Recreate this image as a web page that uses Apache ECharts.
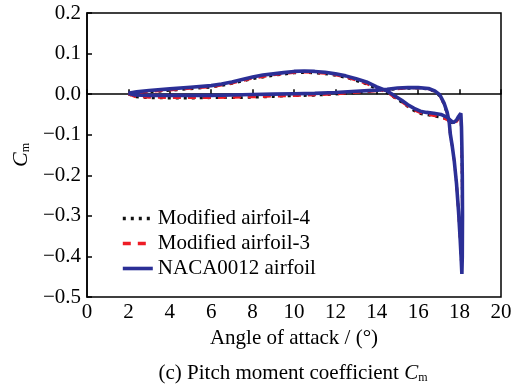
<!DOCTYPE html>
<html><head><meta charset="utf-8">
<script src="https://cdn.jsdelivr.net/npm/echarts@6/dist/echarts.min.js"></script>
<style>html,body{margin:0;padding:0;background:#fff}#c{width:526px;height:387px}</style>
</head><body><div id="c"></div>
<script>
// Tick labels
const xTicks = [0, 2, 4, 6, 8, 10, 12, 14, 16, 18, 20];
const yTicks = ['0.2', '0.1', '0.0', '\u22120.1', '\u22120.2', '\u22120.3', '\u22120.4', '\u22120.5'];
const seriesNames = ['Modified airfoil-4', 'Modified airfoil-3', 'NACA0012 airfoil'];

// NACA0012 airfoil hysteresis loop (angle of attack, Cm)
const nacaAlpha = [2.0,2.3,3,4,5,6,7,8,9,10,11,12,13,14,14.5,15,15.5,16,16.5,16.8,17.05,17.25,17.4,17.5,17.55,17.65,17.74,17.85,17.95,18.03,18.08,18.11,
  18.13,18.14,18.13,18.11,18.09,18.06,17.95,17.85,17.7,17.55,17.4,17.1,16.75,16.4,16.1,15.8,15.5,15.2,14.8,14.5,14,13.5,13,12.5,12,11.5,11,10.5,10,9.5,9,8.5,8,7.5,7,6.5,6,5,4,3,2.4,2.0];
const nacaCm = [0.002,-0.002,-0.003,-0.003,-0.003,-0.003,-0.002,-0.001,0.0,0.001,0.002,0.004,0.007,0.010,0.012,0.015,0.016,0.016,0.014,0.008,-0.002,-0.022,-0.045,-0.07,-0.098,-0.13,-0.164,-0.22,-0.29,-0.36,-0.41,-0.443,
  -0.40,-0.30,-0.20,-0.13,-0.08,-0.047,-0.055,-0.064,-0.07,-0.064,-0.057,-0.05,-0.047,-0.045,-0.042,-0.035,-0.026,-0.015,-0.002,0.008,0.018,0.030,0.038,0.045,0.050,0.054,0.056,0.057,0.056,0.053,0.050,0.047,0.042,0.036,0.030,0.025,0.021,0.017,0.013,0.009,0.006,0.002];

// Modified airfoil-3
const mod3Alpha = [2.0,2.3,3,4,5,6,7,8,9,10,11,12,13,14,14.5,15,15.5,16,16.5,16.8,17.05,17.25,17.4,17.5,17.55,17.65,17.74,17.85,17.95,18.03,18.08,18.1,
  18.12,18.13,18.12,18.1,18.08,18.05,17.95,17.85,17.7,17.55,17.4,17.1,16.75,16.4,16.1,15.8,15.5,15.2,14.8,14.5,14,13.5,13,12.5,12,11.5,11,10.5,10,9.5,9,8.5,8,7.5,7,6.5,6,5,4,3,2.4,2.0];
const mod3Cm = [0.0,-0.006,-0.008,-0.009,-0.009,-0.009,-0.008,-0.007,-0.005,-0.004,-0.002,0.0,0.004,0.008,0.011,0.013,0.015,0.015,0.013,0.007,-0.004,-0.024,-0.048,-0.072,-0.1,-0.13,-0.165,-0.22,-0.29,-0.36,-0.41,-0.43,
  -0.39,-0.30,-0.20,-0.13,-0.08,-0.05,-0.06,-0.068,-0.074,-0.07,-0.063,-0.056,-0.053,-0.05,-0.046,-0.039,-0.03,-0.019,-0.006,0.004,0.014,0.026,0.034,0.042,0.047,0.051,0.053,0.054,0.053,0.050,0.047,0.043,0.039,0.033,0.027,0.022,0.018,0.014,0.010,0.006,0.003,0.0];

// Modified airfoil-4
const mod4Alpha = [2.0,2.3,3,4,5,6,7,8,9,10,11,12,13,14,14.5,15,15.5,16,16.5,16.8,17.05,17.25,17.4,17.5,17.55,17.65,17.74,17.85,17.95,18.03,18.08,18.1,
  18.12,18.13,18.12,18.1,18.08,18.05,17.95,17.85,17.7,17.55,17.4,17.1,16.75,16.4,16.1,15.8,15.5,15.2,14.8,14.5,14,13.5,13,12.5,12,11.5,11,10.5,10,9.5,9,8.5,8,7.5,7,6.5,6,5,4,3,2.4,2.0];
const mod4Cm = [0.0,-0.007,-0.009,-0.010,-0.010,-0.009,-0.009,-0.008,-0.006,-0.004,-0.003,0.0,0.003,0.008,0.010,0.013,0.014,0.015,0.012,0.006,-0.005,-0.025,-0.049,-0.072,-0.1,-0.13,-0.165,-0.22,-0.29,-0.36,-0.41,-0.43,
  -0.39,-0.30,-0.20,-0.13,-0.08,-0.05,-0.06,-0.067,-0.072,-0.069,-0.062,-0.057,-0.054,-0.051,-0.048,-0.041,-0.031,-0.020,-0.007,0.003,0.013,0.025,0.033,0.041,0.046,0.050,0.052,0.053,0.052,0.049,0.046,0.042,0.038,0.032,0.026,0.021,0.017,0.013,0.009,0.005,0.002,0.0];

const zip = (a, b) => a.map((v, i) => [v, b[i]]);
const FONT = '"Liberation Serif","Times New Roman",serif';
const FS = 21;

const chart = echarts.init(document.getElementById('c'), null, {renderer: 'canvas'});
chart.setOption({
  backgroundColor: '#ffffff',
  animation: false,
  textStyle: {fontFamily: FONT, color: '#000'},
  title: {
    text: '(c) Pitch moment coefficient {c|C}{m|m}',
    left: 288, textAlign: 'center', top: 357,
    textStyle: {
      fontFamily: FONT, fontSize: FS, fontWeight: 'normal', color: '#000',
      rich: {
        c: {fontFamily: FONT, fontSize: FS, fontStyle: 'italic', color: '#000'},
        m: {fontFamily: FONT, fontSize: 12, color: '#000', padding: [10, 0, 0, 0]}
      }
    }
  },
  grid: {left: 87, right: 25, top: 13, bottom: 90, show: true, borderColor: '#000', borderWidth: 1.5, backgroundColor: 'transparent'},
  legend: {
    orient: 'vertical', left: 116, top: 203,
    itemWidth: 30, itemHeight: 14, itemGap: 4,
    data: seriesNames,
    itemStyle: {opacity: 0},
    lineStyle: {width: 3.6},
    textStyle: {fontFamily: FONT, fontSize: FS, color: '#000'}
  },
  xAxis: {
    type: 'value', min: 0, max: 20, interval: 2,
    name: 'Angle of attack / (\u00b0)', nameLocation: 'middle', nameGap: 31,
    nameTextStyle: {fontFamily: FONT, fontSize: FS, color: '#000'},
    axisLine: {show: true, lineStyle: {color: '#000', width: 1.5}},
    axisTick: {show: true, inside: true, length: 5, lineStyle: {color: '#000', width: 1.5}},
    axisLabel: {fontFamily: FONT, fontSize: FS, color: '#000', margin: 5,
      formatter: v => String(xTicks[Math.round(v / 2)])},
    splitLine: {show: false}
  },
  yAxis: {
    type: 'value', min: -0.5, max: 0.2, interval: 0.1,
    name: '{c|C}{m|m}', nameLocation: 'middle', nameGap: 52, nameRotate: 90,
    nameTextStyle: {
      fontFamily: FONT, fontSize: FS, color: '#000',
      rich: {
        c: {fontFamily: FONT, fontSize: 22, fontStyle: 'italic', color: '#000'},
        m: {fontFamily: FONT, fontSize: 12, color: '#000', padding: [10, 0, 0, 0]}
      }
    },
    axisLine: {show: true, lineStyle: {color: '#000', width: 1.5}},
    axisTick: {show: true, inside: true, length: 5, lineStyle: {color: '#000', width: 1.5}},
    axisLabel: {fontFamily: FONT, fontSize: FS, color: '#000', margin: 6,
      formatter: v => yTicks[Math.round((0.2 - v) * 10)]},
    splitLine: {show: false}
  },
  series: [
    {name: seriesNames[0], type: 'line', data: zip(mod4Alpha, mod4Cm), showSymbol: false, symbol: 'none', smooth: false,
      lineStyle: {color: '#111', width: 2.6, type: [3, 5]}, itemStyle: {color: '#111'}, z: 2},
    {name: seriesNames[1], type: 'line', data: zip(mod3Alpha, mod3Cm), showSymbol: false, symbol: 'none', smooth: false,
      lineStyle: {color: '#ee1c25', width: 2.6, type: [8, 7]}, itemStyle: {color: '#ee1c25'}, z: 2},
    {name: seriesNames[2], type: 'line', data: zip(nacaAlpha, nacaCm), showSymbol: false, symbol: 'none', smooth: false,
      lineStyle: {color: '#2b2f96', width: 3.6}, itemStyle: {color: '#2b2f96'}, z: 3}
  ]
});
</script></body></html>
